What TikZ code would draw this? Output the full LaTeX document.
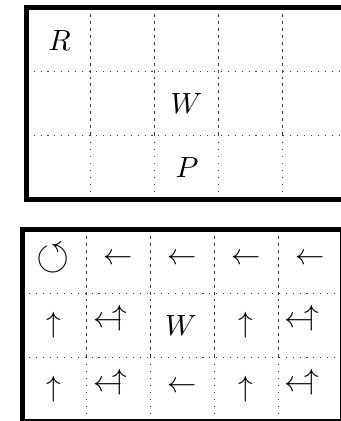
\documentclass[tikz,border=0pt]{standalone}
\usepackage{tikz}
\usetikzlibrary{positioning}
\usepackage{amsmath}
\usepackage{amssymb}
\newcommand{\leftup}{$\leftarrow\kern-0.65em\raisebox{0.08em}{$\uparrow$}$}

\begin{document}
\begin{tikzpicture}[
      x=0.375pt, y=-0.375pt,
      frame/.style={line width=2pt},
      vdash/.style={black!75, line width=0.45pt, dash pattern=on 1.1pt off 1.5pt},
      vdot/.style={black!75, line width=0.5pt, dash pattern=on 0.4pt off 2.2pt},
      hdot/.style={black!75, line width=0.5pt, dash pattern=on 0.4pt off 2.2pt},
      cell/.style={inner sep=0pt, font=\fontsize{10.5}{13}\selectfont}
  ]
    \useasboundingbox (0,0) rectangle (341,421);
    \clip (0,0) rectangle (341,421);
    % world
    \draw[hdot](26.7,71.2)--(346.7,71.2); \draw[hdot](26.7,135.2)--(346.7,135.2);
    \draw[vdash](90.7,7.2)--(90.7,135.2); \draw[vdot](90.7,135.2)--(90.7,199.2);
    \draw[vdash](154.7,7.2)--(154.7,135.2); \draw[vdot](154.7,135.2)--(154.7,199.2);
    \draw[vdash](218.7,7.2)--(218.7,135.2); \draw[vdot](218.7,135.2)--(218.7,199.2);
    \draw[vdash](282.7,7.2)--(282.7,135.2); \draw[vdot](282.7,135.2)--(282.7,199.2);
    \draw[frame](26.7,7.2) rectangle (346.7,199.2);
    \node[cell](robot) at (59.5,40.8){$R$};
    \node[cell](wall) at (186.5,104){$W$};
    \node[cell](pit) at (187,168){$P$};
    % policy
    \draw[hdot](22.2,293.2)--(342.2,293.2); \draw[hdot](22.2,357.2)--(342.2,357.2);
    \draw[vdash](86.2,229.2)--(86.2,357.2); \draw[vdot](86.2,357.2)--(86.2,421.2);
    \draw[vdash](150.2,229.2)--(150.2,357.2); \draw[vdot](150.2,357.2)--(150.2,421.2);
    \draw[vdash](214.2,229.2)--(214.2,357.2); \draw[vdot](214.2,357.2)--(214.2,421.2);
    \draw[vdash](278.2,229.2)--(278.2,357.2); \draw[vdot](278.2,357.2)--(278.2,421.2);
    \draw[frame](22.2,229.2) rectangle (342.2,421.2);
    \node[cell, font=\fontsize{16}{19}\selectfont](stay) at (53,259){$\circlearrowleft$};
    \node[cell](aa) at (118,259.3){$\leftarrow$};
    \node[cell](ab) at (182,259.3){$\leftarrow$};
    \node[cell](ac) at (246,259.3){$\leftarrow$};
    \node[cell](ad) at (310,259.3){$\leftarrow$};
    \node[cell](ba) at (53.5,325){$\uparrow$};
    \node[cell](bb) at (110.5,318.4){\leftup};
    \node[cell](bw) at (181,325.5){$W$};
    \node[cell](bc) at (245.7,325){$\uparrow$};
    \node[cell](bd) at (301.8,318.4){\leftup};
    \node[cell](ca) at (53.5,389){$\uparrow$};
    \node[cell](cb) at (110.5,382.2){\leftup};
    \node[cell](cc) at (182.5,386.7){$\leftarrow$};
    \node[cell](cd) at (245.7,389){$\uparrow$};
    \node[cell](ce) at (301.8,382.2){\leftup};
  \end{tikzpicture}
\end{document}
